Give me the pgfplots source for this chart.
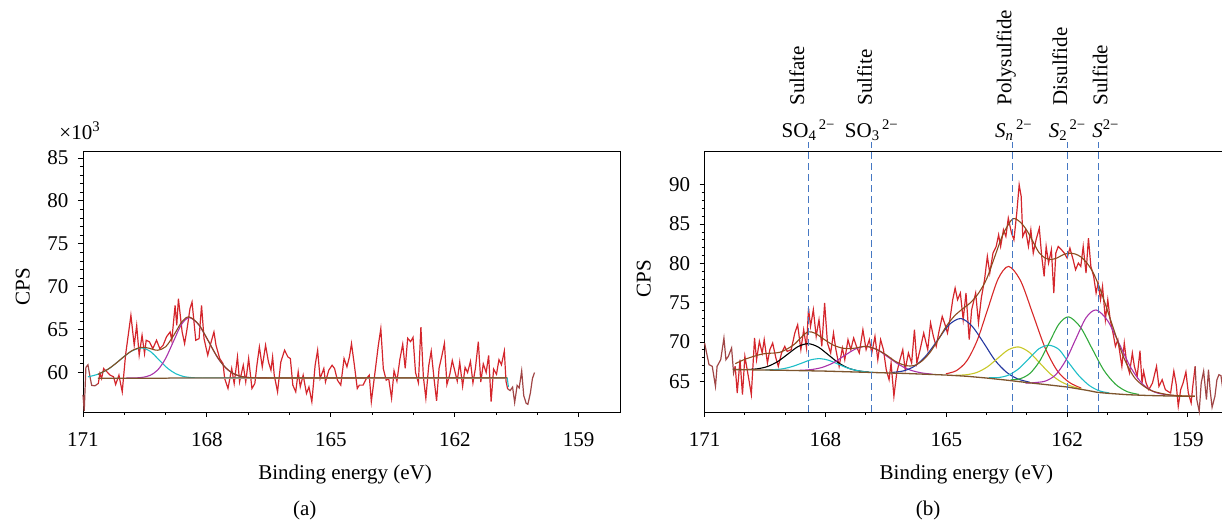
\documentclass[border=0pt]{standalone}
\usepackage{fontspec}
\setmainfont{Liberation Serif}
\usepackage{pgfplots}
\pgfplotsset{compat=1.18}
\definecolor{datared}{RGB}{212,38,44}
\definecolor{dataout}{RGB}{160,70,70}
\definecolor{envbrown}{RGB}{140,75,30}
\definecolor{bgbrown}{RGB}{125,85,45}
\definecolor{ccyan}{RGB}{30,190,200}
\definecolor{cmag}{RGB}{170,50,170}
\definecolor{cblue}{RGB}{35,55,160}
\definecolor{cyel}{RGB}{200,200,40}
\definecolor{cgreen}{RGB}{50,170,60}
\definecolor{cred}{RGB}{215,40,40}
\definecolor{dashblue}{RGB}{70,120,195}
\newcommand{\F}{\fontsize{21}{25}\selectfont}
\pgfplotsset{
  myax/.style={
    scale only axis, height=261pt, anchor=south west,
    x dir=reverse, xmin=158, xmax=171,
    xtick={159,162,165,168,171}, minor x tick num=2,
    minor y tick num=4,
    tick align=outside, tick pos=left,
    major tick length=5pt, minor tick length=3pt,
    every tick/.style={black, line width=0.9pt},
    axis line style={line width=0.9pt, black},
    tick label style={font=\F},
    /pgf/number format/assume math mode=true,
    xticklabel style={yshift=-12pt},
    yticklabel style={xshift=-6pt},
    label style={font=\F},
    scaled ticks=false,
    clip=false,
  }
}
\begin{document}
\begin{tikzpicture}
\useasboundingbox (0pt,0pt) rectangle (1222pt,521pt);
% ---------------- panel (a)
\begin{axis}[myax, at={(83pt,109pt)}, width=537pt,
  ymin=55.4, ymax=85.82, ytick={60,65,70,75,80,85},
  xlabel={Binding energy (eV)},
  xlabel style={at={(axis description cs:0.488,-0.257)}, anchor=base},
  ylabel={CPS},
  ylabel style={at={(axis description cs:-0.112,0.481)}, anchor=center},
]
\addplot[dataout, line width=1.2pt] coordinates {(171.00,57.4) (170.97,55.5) (170.93,60.6) (170.88,60.9) (170.83,59.5) (170.79,58.5) (170.71,58.45) (170.64,58.7)};
\addplot[datared, line width=1.2pt] coordinates {(170.64,58.7) (170.63,58.72) (170.59,59.88) (170.55,59.30) (170.50,60.47) (170.42,60.08) (170.34,59.69) (170.26,59.50) (170.21,58.60) (170.13,59.69) (170.05,57.75) (169.97,62.02) (169.84,66.67) (169.76,63.18) (169.70,65.50) (169.64,62.02) (169.57,64.34) (169.51,62.21) (169.47,63.76) (169.39,63.57) (169.31,62.79) (169.22,63.76) (169.14,62.79) (169.06,63.18) (168.98,64.15) (168.89,64.73) (168.85,63.76) (168.77,67.83) (168.73,65.50) (168.69,68.60) (168.60,64.73) (168.54,63.37) (168.48,65.12) (168.41,67.44) (168.36,68.22) (168.27,63.76) (168.19,63.95) (168.13,67.83) (168.07,63.95) (167.98,62.02) (167.92,63.18) (167.83,64.73) (167.78,63.18) (167.69,61.63) (167.61,61.05) (167.57,59.30) (167.49,58.14) (167.40,60.47) (167.34,58.72) (167.26,61.82) (167.21,58.91) (167.12,60.85) (167.06,58.91) (166.99,61.63) (166.91,58.14) (166.84,58.72) (166.79,60.85) (166.73,62.98) (166.66,60.66) (166.58,63.18) (166.51,61.24) (166.45,60.27) (166.41,61.82) (166.37,59.69) (166.29,57.75) (166.21,61.24) (166.12,62.60) (166.04,61.82) (165.98,61.63) (165.92,58.53) (165.85,57.75) (165.79,60.08) (165.74,58.33) (165.67,59.69) (165.59,57.56) (165.53,58.33) (165.46,56.59) (165.38,60.85) (165.32,62.60) (165.26,59.30) (165.17,60.47) (165.13,58.91) (165.05,60.27) (164.97,60.85) (164.91,60.47) (164.84,59.11) (164.76,58.53) (164.68,61.63) (164.61,60.66) (164.55,61.82) (164.50,63.37) (164.43,60.85) (164.36,58.14) (164.31,58.53) (164.22,58.53) (164.14,59.30) (164.07,59.69) (164.02,56.59) (163.95,59.30) (163.85,63.18) (163.79,65.12) (163.73,60.47) (163.66,59.11) (163.60,59.30) (163.53,57.0) (163.47,60.2) (163.40,59.0) (163.33,61.5) (163.26,63.3) (163.20,60.5) (163.14,64.0) (163.07,63.6) (163.01,64.1) (162.95,60.0) (162.88,58.8) (162.82,65.3) (162.76,59.5) (162.70,57.0) (162.63,60.8) (162.57,62.5) (162.50,59.2) (162.44,56.7) (162.38,60.5) (162.31,62.0) (162.25,63.4) (162.19,58.6) (162.12,59.8) (162.06,61.4) (162.00,60.2) (161.94,59.0) (161.88,61.2) (161.81,58.4) (161.75,60.6) (161.69,60.0) (161.62,61.3) (161.56,58.8) (161.50,60.5) (161.43,63.6) (161.37,58.9) (161.31,61.0) (161.24,60.0) (161.18,62.0) (161.12,56.6) (161.06,60.4) (160.99,59.8) (160.93,61.5) (160.87,60.9) (160.80,62.5) (160.76,59.0) (160.72,58.1)};
\addplot[dataout, line width=1.2pt] coordinates {(160.72,58.1) (160.66,57.9) (160.60,58.3) (160.55,56.5) (160.49,58.5) (160.44,58.2) (160.38,60.2) (160.33,57.3) (160.27,56.4) (160.23,56.3) (160.17,57.6) (160.12,59.3) (160.07,60.0)};
% components (a)
\addplot[ccyan, line width=1.1pt, smooth] coordinates {(170.88,59.50) (170.62,59.83) (170.36,60.49) (170.10,61.48) (169.84,62.46) (169.58,62.87) (169.37,62.46) (169.16,61.48) (168.95,60.49) (168.74,59.83) (168.53,59.50) (168.32,59.39) (168.11,59.36)};
\addplot[ccyan, line width=1.1pt] coordinates {(168.11,59.36) (160.73,59.36) (160.70,58.3)};
\addplot[cmag, line width=1.1pt, smooth] coordinates {(169.95,59.36) (169.76,59.37) (169.57,59.43) (169.38,59.66) (169.19,60.30) (169.00,61.64) (168.81,63.63) (168.62,65.57) (168.43,66.40) (168.20,65.57) (167.96,63.63) (167.73,61.64) (167.49,60.30) (167.26,59.66) (167.02,59.43) (166.79,59.37) (166.55,59.36)};
\addplot[gray!55, line width=1.4pt] coordinates {(170.64,59.27) (160.73,59.27)};
\addplot[bgbrown, line width=1.1pt] coordinates {(170.64,59.33) (169.0,59.33) (168.9,59.37) (160.73,59.37)};
\addplot[envbrown, line width=1.1pt, smooth] coordinates {(170.64,59.79) (170.40,60.37) (170.20,61.08) (170.00,61.89) (169.80,62.58) (169.58,62.94) (169.40,62.83) (169.20,62.60) (169.00,63.00) (168.80,64.36) (168.60,65.96) (168.43,66.48) (168.20,65.62) (168.00,63.99) (167.80,62.22) (167.60,60.83) (167.40,59.99) (167.20,59.58) (167.00,59.42) (166.80,59.37) (166.50,59.36)};
\addplot[envbrown, line width=1.1pt] coordinates {(166.50,59.36) (160.73,59.38)};
\node[font=\F, anchor=center] at (axis description cs:-0.006,1.077) {×10\textsuperscript{3}};
\node[font=\F, anchor=base] at (axis description cs:0.413,-0.395) {(a)};
\end{axis}
% ---------------- panel (b)
\begin{axis}[myax, at={(704.6pt,109pt)}, width=523.6pt,
  ymin=61.1, ymax=94.3, ytick={65,70,75,80,85,90},
  xlabel={Binding energy (eV)},
  xlabel style={at={(axis description cs:0.50,-0.257)}, anchor=base},
  ylabel={CPS},
  ylabel style={at={(axis description cs:-0.116,0.51)}, anchor=center},
]
\addplot[dataout, line width=1.2pt] coordinates {(171.00,69.87) (170.95,68.60) (170.89,67.12) (170.81,66.91) (170.73,64.36) (170.69,66.91) (170.60,67.75) (170.52,70.51) (170.47,67.75) (170.41,68.18) (170.33,69.24) (170.28,66.06) (170.24,66.91)};
\addplot[datared, line width=1.2pt] coordinates {(170.24,66.91) (170.19,63.52) (170.12,67.75) (170.06,63.31) (170.00,68.18) (169.90,65.21) (169.84,63.31) (169.76,70.51) (169.71,67.75) (169.64,70.08) (169.57,68.60) (169.52,70.30) (169.44,67.33) (169.38,69.03) (169.31,69.87) (169.23,67.97) (169.17,66.91) (169.09,68.60) (169.01,69.45) (168.95,68.81) (168.85,69.03) (168.76,71.14) (168.69,72.20) (168.61,69.03) (168.54,71.57) (168.47,69.24) (168.42,74.32) (168.37,71.99) (168.30,74.11) (168.23,70.72) (168.16,72.84) (168.09,69.45) (168.02,74.96) (167.95,69.87) (167.87,68.60) (167.80,71.14) (167.74,69.03) (167.66,66.91) (167.58,69.24) (167.52,67.75) (167.44,70.30) (167.37,69.03) (167.30,70.51) (167.23,69.45) (167.16,68.60) (167.07,71.57) (166.99,69.03) (166.91,70.30) (166.85,68.60) (166.77,70.72) (166.70,67.75) (166.63,70.30) (166.56,69.03) (166.49,66.48) (166.42,65.21) (166.37,67.33) (166.30,63.09) (166.23,66.06) (166.15,67.75) (166.08,69.03) (166.02,66.48) (165.94,68.60) (165.86,67.33) (165.79,71.57) (165.73,67.33) (165.65,69.03) (165.56,71.14) (165.46,69.03) (165.39,72.42) (165.32,70.72) (165.25,69.45) (165.18,71.36) (165.10,73.26) (165.03,72.20) (164.97,71.14) (164.91,72.84) (164.84,75.38) (164.78,76.86) (164.72,75.38) (164.65,76.23) (164.58,72.84) (164.51,76.23) (164.43,70.30) (164.37,74.11) (164.27,76.23) (164.20,72.42) (164.13,75.59) (164.05,77.92) (163.98,80.89) (163.92,78.77) (163.84,81.31) (163.76,82.16) (163.70,83.64) (163.65,82.16) (163.58,84.28) (163.52,83.43) (163.46,85.76) (163.38,83.86) (163.32,83.01) (163.25,86.40) (163.19,90.00) (163.14,88.52) (163.10,83.43) (163.03,84.28) (162.96,82.16) (162.90,84.28) (162.84,81.31) (162.77,83.01) (162.69,84.49) (162.63,80.89) (162.57,78.35) (162.52,82.16) (162.46,80.04) (162.39,81.74) (162.33,76.23) (162.28,81.31) (162.22,82.16) (162.14,81.74) (162.07,81.31) (162.00,80.68) (161.93,81.95) (161.85,80.47) (161.79,79.19) (161.72,80.04) (161.66,79.62) (161.60,82.16) (161.53,78.77) (161.47,83.22) (161.41,79.62) (161.34,78.35) (161.28,76.23) (161.23,77.50) (161.17,75.38) (161.12,77.08) (161.05,72.84) (160.99,75.38) (160.93,72.84) (160.86,71.14) (160.80,69.45) (160.74,70.30) (160.69,68.60) (160.64,66.91) (160.58,69.87) (160.52,67.33) (160.45,66.06) (160.38,68.60) (160.33,66.91) (160.26,65.64) (160.19,68.90) (160.14,64.79) (160.10,66.27) (160.04,64.79) (159.97,63.94) (159.88,64.79) (159.78,66.90) (159.72,64.36) (159.64,65.20) (159.56,63.94) (159.50,63.73) (159.43,63.52) (159.35,66.30) (159.29,64.58) (159.24,61.82) (159.18,63.94) (159.12,64.79) (159.05,66.20) (158.99,63.52) (158.92,62.25) (158.88,64.36) (158.82,66.91)};
\addplot[dataout, line width=1.2pt] coordinates {(158.82,66.91) (158.78,62.67) (158.72,61.19) (158.67,64.79) (158.61,66.30) (158.54,62.67) (158.49,66.48) (158.45,63.94) (158.40,61.70) (158.33,63.09) (158.28,65.20) (158.23,65.85) (158.18,65.72) (158.12,63.5) (158.06,66.0) (158.00,64.8)};
% components (b)
\addplot[black, line width=1.1pt, smooth] coordinates {(169.93,66.51) (169.68,66.60) (169.43,66.90) (169.18,67.53) (168.93,68.48) (168.68,69.42) (168.43,69.79) (168.18,69.37) (167.93,68.38) (167.68,67.37) (167.43,66.68) (167.18,66.33) (166.93,66.18)};
\addplot[ccyan, line width=1.1pt, smooth] coordinates {(169.49,66.46) (169.27,66.49) (169.04,66.61) (168.82,66.89) (168.59,67.31) (168.37,67.73) (168.14,67.89) (167.92,67.68) (167.69,67.20) (167.47,66.73) (167.24,66.40) (167.02,66.22) (166.79,66.14)};
\addplot[cmag, line width=1.1pt, smooth] coordinates {(168.64,66.40) (168.36,66.49) (168.09,66.76) (167.81,67.34) (167.54,68.23) (167.26,69.10) (166.99,69.45) (166.71,69.02) (166.44,68.07) (166.16,67.09) (165.89,66.43) (165.61,66.07) (165.34,65.91)};
\addplot[cblue, line width=1.1pt, smooth] coordinates {(166.35,66.13) (166.06,66.33) (165.78,66.95) (165.50,68.27) (165.21,70.27) (164.93,72.20) (164.64,72.99) (164.36,72.02) (164.07,69.88) (163.79,67.68) (163.50,66.14) (163.22,65.30) (162.93,64.89)};
\addplot[cred, line width=1.1pt, smooth] coordinates {(165.01,65.96) (164.75,66.36) (164.49,67.60) (164.23,70.23) (163.97,74.19) (163.71,78.06) (163.45,79.62) (163.15,77.74) (162.85,73.56) (162.55,69.31) (162.25,66.39) (161.95,64.88) (161.65,64.14)};
\addplot[cyel, line width=1.1pt, smooth] coordinates {(164.76,65.77) (164.50,65.84) (164.24,66.13) (163.98,66.84) (163.72,67.94) (163.46,69.01) (163.20,69.37) (162.94,68.70) (162.68,67.34) (162.42,65.96) (162.16,64.98) (161.90,64.39) (161.64,64.02)};
\addplot[ccyan, line width=1.1pt, smooth] coordinates {(163.95,65.46) (163.70,65.48) (163.45,65.80) (163.20,66.61) (162.95,67.88) (162.70,69.14) (162.45,69.59) (162.20,69.04) (161.95,67.30) (161.70,65.67) (161.45,64.48) (161.20,63.79) (160.95,63.52)};
\addplot[cgreen, line width=1.1pt, smooth] coordinates {(163.40,65.19) (163.16,65.34) (162.92,66.02) (162.68,67.58) (162.44,69.96) (162.20,72.30) (161.96,73.20) (161.67,71.90) (161.38,69.17) (161.09,66.43) (160.80,64.64) (160.51,63.69) (160.22,63.34)};
\addplot[cmag, line width=1.1pt, smooth] coordinates {(163.03,64.76) (162.78,64.85) (162.53,65.05) (162.28,65.85) (162.03,67.69) (161.78,70.43) (161.53,73.09) (161.28,74.08) (160.99,72.69) (160.70,69.71) (160.41,66.67) (160.12,64.63) (159.83,63.64) (159.54,63.30) (159.25,63.13)};
\addplot[bgbrown, line width=1.3pt] coordinates {(170.30,66.50) (169.00,66.40) (168.00,66.30) (167.00,66.15) (166.00,66.00) (165.00,65.80) (164.50,65.65) (164.00,65.42) (163.50,65.15) (163.00,64.85) (162.50,64.57) (162.00,64.28) (161.50,63.85) (161.25,63.60) (161.00,63.48) (160.50,63.30) (160.00,63.20) (159.50,63.14) (159.00,63.10) (158.83,63.10)};
\addplot[envbrown, line width=1.1pt, smooth] coordinates {(170.24,67.25) (169.95,67.9) (169.54,68.5) (169.13,68.7) (168.80,69.6) (168.60,70.6) (168.43,71.3) (168.25,71.1) (168.05,70.4) (167.80,69.6) (167.55,69.2) (167.30,69.2) (167.00,69.45) (166.75,69.1) (166.50,68.4) (166.25,67.5) (166.00,67.0) (165.80,67.0) (165.60,67.6) (165.40,68.7) (165.20,70.3) (165.00,72.0) (164.80,73.3) (164.60,74.2) (164.40,75.0) (164.20,76.2) (164.00,78.0) (163.80,80.8) (163.60,83.6) (163.40,85.4) (163.30,85.7) (163.15,85.2) (163.00,84.2) (162.85,82.8) (162.70,81.4) (162.55,80.7) (162.40,80.5) (162.25,80.7) (162.10,81.1) (161.95,81.3) (161.80,81.2) (161.65,80.8) (161.50,80.0) (161.35,78.8) (161.20,77.0) (161.05,74.8) (160.90,72.5) (160.75,70.2) (160.60,68.1) (160.45,66.5) (160.30,65.3) (160.10,64.4) (159.90,63.8) (159.60,63.4) (159.30,63.2) (158.83,63.1)};
% dashed marker lines
\addplot[dashblue, line width=1pt, dash pattern=on 7pt off 4pt] coordinates {(168.41,61.1) (168.41,95.5)};
\addplot[dashblue, line width=1pt, dash pattern=on 7pt off 4pt] coordinates {(166.86,61.1) (166.86,95.5)};
\addplot[dashblue, line width=1pt, dash pattern=on 7pt off 4pt] coordinates {(163.35,61.1) (163.35,95.5)};
\addplot[dashblue, line width=1pt, dash pattern=on 7pt off 4pt] coordinates {(162.00,61.1) (162.00,95.5)};
\addplot[dashblue, line width=1pt, dash pattern=on 7pt off 4pt] coordinates {(161.23,61.1) (161.23,95.5)};
% labels
\node[font=\F, anchor=base west, inner sep=0pt] at (axis cs:169.09,96.02) {SO\textsubscript{4}\textsuperscript{\,2−}};
\node[font=\F, anchor=base west, inner sep=0pt] at (axis cs:167.52,96.02) {SO\textsubscript{3}\textsuperscript{\,2−}};
\node[font=\F, anchor=base west, inner sep=0pt] at (axis cs:163.79,96.02) {\textit{S}\textsubscript{\textit{n}}\textsuperscript{\,2−}};
\node[font=\F, anchor=base west, inner sep=0pt] at (axis cs:162.46,96.02) {\textit{S}\textsubscript{2}\textsuperscript{\,2−}};
\node[font=\F, anchor=base west, inner sep=0pt] at (axis cs:161.38,96.02) {\textit{S}\textsuperscript{2−}};
\node[font=\F, rotate=90, anchor=west, inner sep=0pt] at (axis cs:168.71,100.04) {Sulfate};
\node[font=\F, rotate=90, anchor=west, inner sep=0pt] at (axis cs:167.03,100.04) {Sulfite};
\node[font=\F, rotate=90, anchor=west, inner sep=0pt] at (axis cs:163.51,100.04) {Polysulfide};
\node[font=\F, rotate=90, anchor=west, inner sep=0pt] at (axis cs:162.18,100.04) {Disulfide};
\node[font=\F, rotate=90, anchor=west, inner sep=0pt] at (axis cs:161.18,100.04) {Sulfide};
\node[font=\F, anchor=base] at (axis description cs:0.427,-0.395) {(b)};
\end{axis}
\end{tikzpicture}
\end{document}
